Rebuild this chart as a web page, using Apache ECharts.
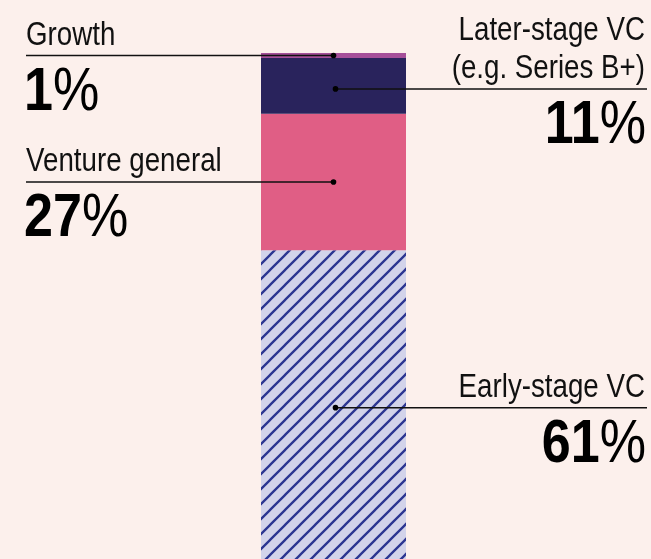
<!DOCTYPE html>
<html><head><meta charset="utf-8">
<style>html,body{margin:0;padding:0;background:#fcf0ec;} #c{width:651px;height:559px;}</style>
<script src="https://cdn.jsdelivr.net/npm/echarts@6/dist/echarts.min.js"></script>
</head><body><div id="c"></div>
<script>
// Data (stack order: bottom to top)
const categories = ['Share'];
const seriesNames = ['Early-stage VC', 'Venture general', 'Later-stage VC\n(e.g. Series B+)', 'Growth'];
const seriesValues = [61, 27, 11, 1];
const labelSides = ['right', 'left', 'right', 'left'];

const FONT = "'Liberation Sans', Arial, sans-serif";
const SX = 0.84; // horizontal condensing of the label text

function hatch() {
  const s = 15;
  const c = document.createElement('canvas');
  c.width = s; c.height = s;
  const g = c.getContext('2d');
  g.fillStyle = '#d2d3ea';
  g.fillRect(0, 0, s, s);
  g.strokeStyle = '#2b3591';
  g.lineWidth = 2.3;
  g.beginPath();
  g.moveTo(-2, s + 2); g.lineTo(s + 2, -2);
  g.moveTo(-2, 2); g.lineTo(2, -2);
  g.moveTo(s - 2, s + 2); g.lineTo(s + 2, s - 2);
  g.stroke();
  return c;
}

const colors = [{ image: hatch(), repeat: 'repeat' }, '#e05e85', '#29235c', '#a54f99'];

const chart = echarts.init(document.getElementById('c'), null, { renderer: 'canvas' });
chart.setOption({
  backgroundColor: '#fcf0ec',
  animation: false,
  grid: { left: 261, width: 145, top: 53, bottom: -1 },
  xAxis: { type: 'category', data: categories, show: false },
  yAxis: { type: 'value', min: 0, max: 100, show: false },
  series: seriesNames.map((n, i) => ({
    name: n, type: 'bar', stack: 'all', barWidth: '100%',
    data: [seriesValues[i]],
    itemStyle: { color: colors[i] },
    emphasis: { disabled: true }
  }))
});

// Annotations computed from the chart's own scale
const graphics = [];
let cum = 0;
seriesValues.forEach((v, i) => {
  const mid = cum + v / 2;
  cum += v;
  const p = chart.convertToPixel({ gridIndex: 0 }, [0, mid]);
  const left = labelSides[i] === 'left';
  const xc = p[0] + (left ? 0 : 2);
  const y = p[1] + (left ? 0 : 3);
  const lineX1 = left ? 26 : xc;
  const lineX2 = left ? xc : 647;
  graphics.push({ type: 'line', z: 100, shape: { x1: lineX1, y1: y, x2: lineX2, y2: y }, style: { stroke: '#111', lineWidth: 1.5 } });
  graphics.push({ type: 'circle', z: 101, shape: { cx: xc, cy: y, r: 2.8 }, style: { fill: '#000' } });
  const lines = seriesNames[i].split('\n').length;
  const lh = 38;
  graphics.push({
    type: 'text', z: 100,
    x: left ? 26 : 645,
    y: y - 20 - (lines - 1) * lh / 2,
    scaleX: SX,
    style: {
      text: seriesNames[i], fill: '#111',
      fontSize: 33, fontFamily: FONT, lineHeight: lh,
      align: left ? 'left' : 'right', verticalAlign: 'middle'
    }
  });
  graphics.push({
    type: 'text', z: 100,
    x: left ? 24 : 646,
    y: y + 37,
    scaleX: SX,
    style: {
      text: '{b|' + v + '}{r|%}', fill: '#000',
      align: left ? 'left' : 'right', verticalAlign: 'middle',
      rich: {
        b: { fontSize: 62, fontWeight: 'bold', fontFamily: FONT, lineHeight: 62, fill: '#000' },
        r: { fontSize: 62, fontWeight: 'normal', fontFamily: FONT, lineHeight: 62, fill: '#000' }
      }
    }
  });
});
chart.setOption({ graphic: graphics });
</script></body></html>
